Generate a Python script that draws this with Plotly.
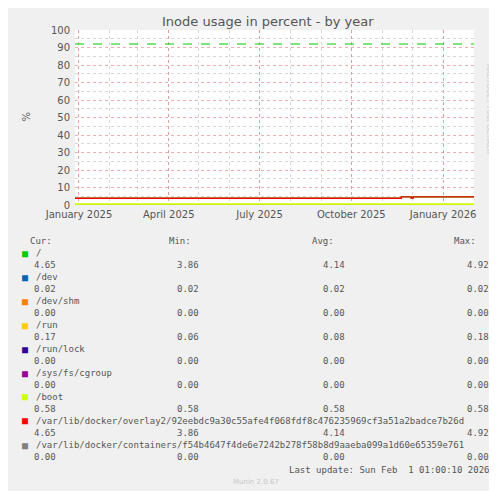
import plotly.graph_objects as go

# data
dates = ["2024-12-28", "2025-11-20", "2025-11-30", "2025-12-02", "2026-02-01"]
root_vals = [3.86, 4.65, 4.0, 4.65, 4.65]
docker_vals = [3.86, 4.65, 4.0, 4.65, 4.65]
run_vals = [0.06, 0.08, 0.08, 0.17, 0.17]
boot_vals = [0.58, 0.58, 0.58, 0.58, 0.58]
dev_vals = [0.02, 0.02, 0.02, 0.02, 0.02]
warning_level = 92

names = ["/", "/dev", "/dev/shm", "/run", "/run/lock", "/sys/fs/cgroup", "/boot",
         "/var/lib/docker/overlay2/92eebdc9a30c55afe4f068fdf8c476235969cf3a51a2badce7b26d",
         "/var/lib/docker/containers/f54b4647f4de6e7242b278f58b8d9aaeba099a1d60e65359e761"]
colors = ["#00cc00", "#0066b3", "#ff8000", "#ffcc00", "#330099", "#990099", "#ccff00", "#ff0000", "#808080"]
cur = ["4.65", "0.02", "0.00", "0.17", "0.00", "0.00", "0.58", "4.65", "0.00"]
mins = ["3.86", "0.02", "0.00", "0.06", "0.00", "0.00", "0.58", "3.86", "0.00"]
avgs = ["4.14", "0.02", "0.00", "0.08", "0.00", "0.00", "0.58", "4.14", "0.00"]
maxs = ["4.92", "0.02", "0.00", "0.18", "0.00", "0.00", "0.58", "4.92", "0.00"]
tick_vals = ["2025-01-01", "2025-04-01", "2025-07-01", "2025-10-01", "2026-01-01"]
tick_text = ["January 2025", "April 2025", "July 2025", "October 2025", "January 2026"]

fig = go.Figure()
series = [(root_vals, 0), (dev_vals, 1), (run_vals, 3), (boot_vals, 6), (docker_vals, 7)]
for vals, i in series:
    fig.add_trace(go.Scatter(x=dates, y=vals, mode="lines", line=dict(color=colors[i], width=1.3, shape="hv"),
                             showlegend=False, hoverinfo="skip"))
fig.add_trace(go.Scatter(x=[dates[0], dates[-1]], y=[warning_level]*2, mode="lines",
                         line=dict(color="#00cc00", width=1.2, dash="dash"), showlegend=False))

mono = "DejaVu Sans Mono"
ann = []
def txt(x, y, s, anchor="left", size=9, color="#555", font=mono):
    ann.append(dict(x=x, y=y, xref="paper", yref="paper", xanchor=anchor, yanchor="middle", text=s,
                    showarrow=False, font=dict(family=font, size=size, color=color)))

W, H = 497, 491
TOP, BOT = 22, 197
def px(x): return (x - 67) / (466 - 67)
def py(y): return (BOT - (y - 6)) / (BOT - TOP)

txt(px(20), py(239), "Cur:")
txt(px(185), py(239), "Min:", "right")
txt(px(328), py(239), "Avg:", "right")
txt(px(470), py(239), "Max:", "right")
for k, n in enumerate(names):
    y1 = 251 + k * 24
    y2 = y1 + 12
    ann.append(dict(x=px(17), y=py(y1), xref="paper", yref="paper", xanchor="center", yanchor="middle",
                    text="■", showarrow=False, font=dict(family=mono, size=10, color=colors[k])))
    txt(px(26), py(y1), n)
    txt(px(50), py(y2), cur[k], "right")
    txt(px(193), py(y2), mins[k], "right")
    txt(px(339), py(y2), avgs[k], "right")
    txt(px(483), py(y2), maxs[k], "right")
txt(px(483), py(468), "Last update: Sun Feb  1 01:00:10 2026", "right")
txt(px(248), py(480), "Munin 2.0.67", "center", 7, "#c8c8c8", "DejaVu Sans")
txt(px(260), py(19), "Inode usage in percent - by year", "center", 13, "#555", "DejaVu Sans")
ann.append(dict(x=px(487), y=py(60), xref="paper", yref="paper", text="RRDTOOL / TOBI OETIKER", textangle=90,
                showarrow=False, font=dict(family="DejaVu Sans", size=7, color="#c8c8c8")))
ann.append(dict(x=px(10), y=py(115), xref="paper", yref="paper", text="%", textangle=-90,
                showarrow=False, font=dict(family="DejaVu Sans", size=10, color="#555")))

fig.update_layout(
    width=W, height=H, margin=dict(l=67, r=31, t=TOP, b=H - BOT),
    paper_bgcolor="#f0f0f0", plot_bgcolor="white", annotations=ann,
    font=dict(family="DejaVu Sans", size=10, color="#555"),
    xaxis=dict(range=["2024-12-28", "2026-02-01"], tickvals=tick_vals, ticktext=tick_text,
               showgrid=True, gridcolor="rgba(230,120,120,0.6)", griddash="dot", ticks="",
               minor=dict(dtick="M1", tick0="2025-01-01", showgrid=True, gridcolor="#d8d8d8", griddash="dot"),
               showline=False, zeroline=False, tickfont=dict(size=10), ticklabelstandoff=2),
    yaxis=dict(range=[0, 100], dtick=10, showgrid=True, gridcolor="rgba(230,120,120,0.6)", griddash="dot",
               minor=dict(dtick=5, showgrid=True, gridcolor="#d8d8d8", griddash="dot"),
               zeroline=False, ticks="", tickfont=dict(size=10), ticklabelstandoff=4),
)
fig.write_html("out.html")
